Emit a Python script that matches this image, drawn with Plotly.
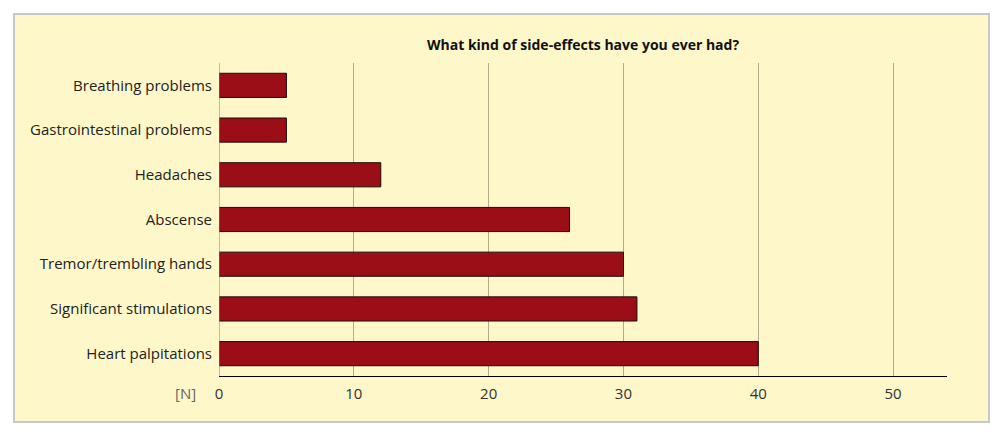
import plotly.graph_objects as go

categories = ["Heart palpitations", "Significant stimulations", "Tremor/trembling hands",
              "Abscense", "Headaches", "Gastrointestinal problems", "Breathing problems"]
values = [40, 31, 30, 26, 12, 5, 5]
tick_vals = [0, 10, 20, 30, 40, 50]
title_text = "What kind of side-effects have you ever had?"
unit_label = "[N]"

bg = "#FEF7C9"
OFF = 8  # page body margin

fig = go.Figure()
fig.add_trace(go.Bar(
    x=values, y=categories, orientation="h",
    marker=dict(color="#9B0E17", line=dict(color="#1a0a0a", width=1)),
    width=0.54,
))

W, H = 1003 - 2 * OFF, 437 - 2 * OFF
L, R, T, B = 219 - OFF, 947 - OFF, 63 - OFF, 376 - OFF
pw, ph = R - L, B - T

def px(x):
    return (x - OFF - L) / pw

def py(y):
    return (B - (y - OFF)) / ph

fig.update_layout(
    width=W, height=H,
    margin=dict(l=L, r=W - R, t=T, b=H - B),
    paper_bgcolor="white",
    plot_bgcolor=bg,
    showlegend=False,
    font=dict(family="Open Sans, sans-serif", size=15, color="#222"),
    xaxis=dict(range=[0, 54], tickvals=tick_vals, showgrid=True, gridcolor="#B5AC8C",
               gridwidth=1, zeroline=False, showline=True, linecolor="black", linewidth=1,
               ticks="", tickfont=dict(size=15, color="#333"), ticklen=0, ticklabelstandoff=4),
    yaxis=dict(showgrid=False, zeroline=False, ticks="", ticklabelstandoff=6,
               tickfont=dict(size=15, color="#222")),
    shapes=[
        dict(type="rect", xref="paper", yref="paper", x0=px(14), x1=px(989), y0=py(422), y1=py(14),
             fillcolor=bg, line=dict(color="#C8C8C8", width=2), layer="below"),
        dict(type="line", xref="x", yref="paper", x0=0, x1=0, y0=0, y1=1,
             line=dict(color="#8A8570", width=1)),
    ],
    annotations=[
        dict(text="<b>" + title_text + "</b>", xref="paper", yref="paper", x=px(583), y=py(45),
             showarrow=False, font=dict(size=14, color="#111"), xanchor="center", yanchor="middle"),
        dict(text=unit_label, xref="paper", yref="paper", x=px(185), y=py(393),
             showarrow=False, font=dict(size=15, color="#666"), xanchor="center", yanchor="middle"),
    ],
)

fig.write_html("out.html")
